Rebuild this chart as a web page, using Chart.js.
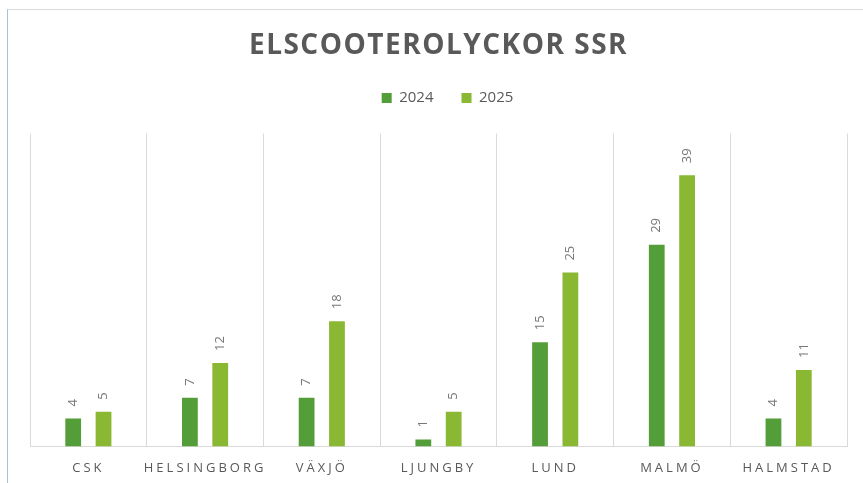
<!DOCTYPE html>
<html>
<head>
<meta charset="utf-8">
<script src="https://cdn.jsdelivr.net/npm/chart.js@4/dist/chart.umd.min.js"></script>
<style>
  html, body { margin: 0; padding: 0; background: #fff; }
  #wrap { position: relative; width: 863px; height: 483px; }
  #frame { position: absolute; left: 7px; top: 9px; right: 0; bottom: 0;
           border-top: 1px solid #d9d9d9; border-left: 1px solid #a9c2d6; }
  canvas { position: absolute; left: 0; top: 0; }
</style>
</head>
<body>
<div id="wrap">
  <div id="frame"></div>
  <canvas id="chart" width="863" height="483"></canvas>
</div>
<script>
const categories = ["CSK", "HELSINGBORG", "VÄXJÖ", "LJUNGBY", "LUND", "MALMÖ", "HALMSTAD"];
const values2024 = [4, 7, 7, 1, 15, 29, 4];
const values2025 = [5, 12, 18, 5, 25, 39, 11];
const seriesNames = ["2024", "2025"];
const seriesColors = ["#549E39", "#8AB833"];

// draw text of an element with a letter spacing (Excel style)
function withSpacing(obj, method, px) {
    const draw = obj[method];
    obj[method] = function (...args) {
        const ctx = this.ctx;
        const prev = ctx.letterSpacing;
        ctx.letterSpacing = px;
        draw.apply(this, args);
        ctx.letterSpacing = prev;
    };
}

const spacing = {
    id: "spacing",
    afterInit(chart) {
        const legend = chart.legend;
        // some room between legend and plot
        const fit = legend.fit;
        legend.fit = function () {
            fit.call(this);
            this.height += 18;
        };
        // Excel puts the legend a bit more to the right
        const draw = legend.draw;
        legend.draw = function (...args) {
            this.ctx.save();
            this.ctx.translate(9, 0);
            draw.apply(this, args);
            this.ctx.restore();
        };
    },
    beforeDraw(chart) {
        if (chart.$spaced) return;
        withSpacing(chart.titleBlock, "draw", "1.5px");
        withSpacing(chart.scales.x, "drawLabels", "3px");
        chart.$spaced = true;
    }
};

// values above the bars, rotated
const barLabels = {
    id: "barLabels",
    afterDatasetsDraw(chart) {
        const ctx = chart.ctx;
        chart.data.datasets.forEach((ds, i) => {
            chart.getDatasetMeta(i).data.forEach((bar, j) => {
                ctx.save();
                ctx.translate(bar.x, bar.y - 12);
                ctx.rotate(-Math.PI / 2);
                ctx.font = '13px "Open Sans"';
                ctx.fillStyle = "#767676";
                ctx.textAlign = "left";
                ctx.textBaseline = "middle";
                ctx.fillText(String(ds.data[j]), 0, 0);
                ctx.restore();
            });
        });
    }
};

new Chart(document.getElementById("chart"), {
    type: "bar",
    data: {
        labels: categories,
        datasets: [
            { label: seriesNames[0], data: values2024, backgroundColor: seriesColors[0] },
            { label: seriesNames[1], data: values2025, backgroundColor: seriesColors[1] }
        ]
    },
    options: {
        responsive: false,
        animation: false,
        categoryPercentage: 0.52,
        barPercentage: 0.52,
        layout: { padding: { left: 30, right: 16, top: 0, bottom: -7 } },
        plugins: {
            title: {
                display: true,
                text: "ELSCOOTEROLYCKOR SSR",
                color: "#595959",
                font: { family: '"Open Sans"', size: 28, weight: "bold", lineHeight: 1.2 },
                padding: { top: 29, bottom: 0 }
            },
            legend: {
                display: true,
                labels: {
                    color: "#595959",
                    font: { family: '"Open Sans"', size: 15 },
                    boxWidth: 10,
                    boxHeight: 10,
                    padding: 28
                }
            },
            tooltip: { enabled: false }
        },
        scales: {
            x: {
                grid: { display: true, color: "#d9d9d9", drawTicks: false, offset: true },
                border: { display: true, color: "#d9d9d9" },
                ticks: {
                    color: "#595959",
                    font: { family: '"Open Sans"', size: 13 },
                    padding: 14,
                    maxRotation: 0,
                    autoSkip: false
                }
            },
            y: {
                display: false,
                min: 0,
                max: 45
            }
        }
    },
    plugins: [spacing, barLabels]
});
</script>
</body>
</html>
